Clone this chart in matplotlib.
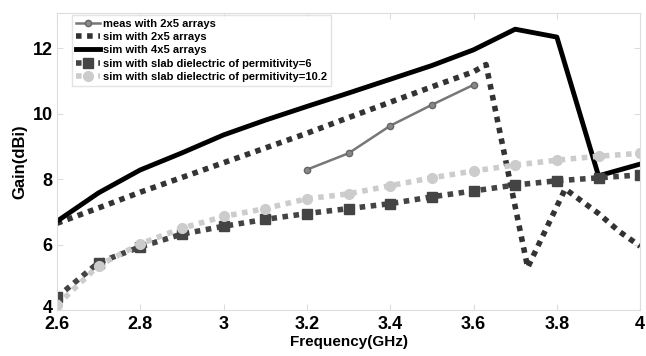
import matplotlib
matplotlib.use('Agg')
import matplotlib.pyplot as plt
import matplotlib.transforms as mtransforms

## data
freq = [2.6, 2.7, 2.8, 2.9, 3.0, 3.1, 3.2, 3.3, 3.4, 3.5, 3.6, 3.7, 3.8, 3.9, 4.0]

meas_freq = [3.2, 3.3, 3.4, 3.5, 3.6]
meas_2x5 = [8.29, 8.79, 9.63, 10.27, 10.88]

sim2x5_freq = [2.6, 2.7, 2.8, 2.9, 3.0, 3.1, 3.2, 3.3, 3.4, 3.5, 3.6, 3.63, 3.73, 3.82, 3.9, 3.95, 4.0]
sim_2x5 = [6.65, 7.12, 7.6, 8.05, 8.5, 8.95, 9.4, 9.88, 10.35, 10.82, 11.28, 11.5, 5.3, 7.7, 6.95, 6.4, 5.95]

sim_4x5 = [6.71, 7.58, 8.28, 8.8, 9.35, 9.8, 10.22, 10.63, 11.05, 11.47, 11.95, 12.58, 12.34, 8.1, 8.46]

perm_6 = [4.39, 5.45, 5.93, 6.32, 6.56, 6.77, 6.95, 7.1, 7.25, 7.46, 7.64, 7.82, 7.95, 8.04, 8.13]
perm_10 = [4.15, 5.36, 6.02, 6.5, 6.86, 7.1, 7.4, 7.55, 7.8, 8.04, 8.25, 8.43, 8.58, 8.7, 8.79]

legend_labels = ['meas with 2x5 arrays', 'sim with 2x5 arrays', 'sim with 4x5 arrays',
                 'sim with slab dielectric of permitivity=6',
                 'sim with slab dielectric of permitivity=10.2']

plt.rcParams['font.family'] = ['Liberation Sans', 'DejaVu Sans']
plt.rcParams['font.weight'] = 'bold'

fig = plt.figure(figsize=(6.46, 3.56), dpi=100)
ax = fig.add_axes([0.088, 0.129, 0.903, 0.834])

dots = (0, (1, 1))

ax.plot(meas_freq, meas_2x5, color='#777777', lw=1.8, marker='o', ms=4.5,
        mfc='#888888', mec='#666666', label=legend_labels[0])
ax.plot(sim2x5_freq, sim_2x5, color='#333333', lw=4, ls=dots,
        dash_capstyle='butt', label=legend_labels[1])
ax.plot(freq, sim_4x5, color='black', lw=3.5, label=legend_labels[2])
ax.plot(freq, perm_6, color='#444444', lw=4, ls=dots, dash_capstyle='butt',
        marker='s', ms=7, mfc='#444444', mec='#444444', label=legend_labels[3])
ax.plot(freq, perm_10, color='#cccccc', lw=4, ls=dots, dash_capstyle='butt',
        marker='o', ms=7, mfc='#cccccc', mec='#cccccc', label=legend_labels[4])

ax.set_xlim(2.6, 4.0)
ax.set_ylim(4, 13.07)
ax.set_xticks([2.6, 2.8, 3.0, 3.2, 3.4, 3.6, 3.8, 4.0])
ax.set_xticklabels(['2.6', '2.8', '3', '3.2', '3.4', '3.6', '3.8', '4'])
ax.set_yticks([4, 6, 8, 10, 12])

for sp in ax.spines.values():
    sp.set_color('#dddddd')
ax.tick_params(direction='in', length=4, color='#dddddd', labelsize=13,
               top=True, right=True, pad=3)
ax.tick_params(axis='x', pad=4)
for lab in ax.get_xticklabels() + ax.get_yticklabels():
    lab.set_fontweight('bold')

##lift the "4" a little, as in the reference it sits just above the "2.6"
lift = mtransforms.ScaledTranslation(0, 4 / 100, fig.dpi_scale_trans)
ylab0 = ax.get_yticklabels()[0]
ylab0.set_transform(ylab0.get_transform() + lift)

ax.set_xlabel('Frequency(GHz)', fontsize=11, fontweight='bold', labelpad=2)
ax.set_ylabel('Gain(dBi)', fontsize=12, fontweight='bold', labelpad=4)

leg = ax.legend(loc='upper left', bbox_to_anchor=(0.026, 0.995), fontsize=8,
                frameon=True, fancybox=False, edgecolor='#dddddd',
                handlelength=2.2, handletextpad=0.2, labelspacing=0.3,
                borderpad=0.35, borderaxespad=0, numpoints=1)
leg.get_frame().set_linewidth(1)
for t in leg.get_texts():
    t.set_fontweight('bold')

fig.savefig('out.png', dpi=100)
